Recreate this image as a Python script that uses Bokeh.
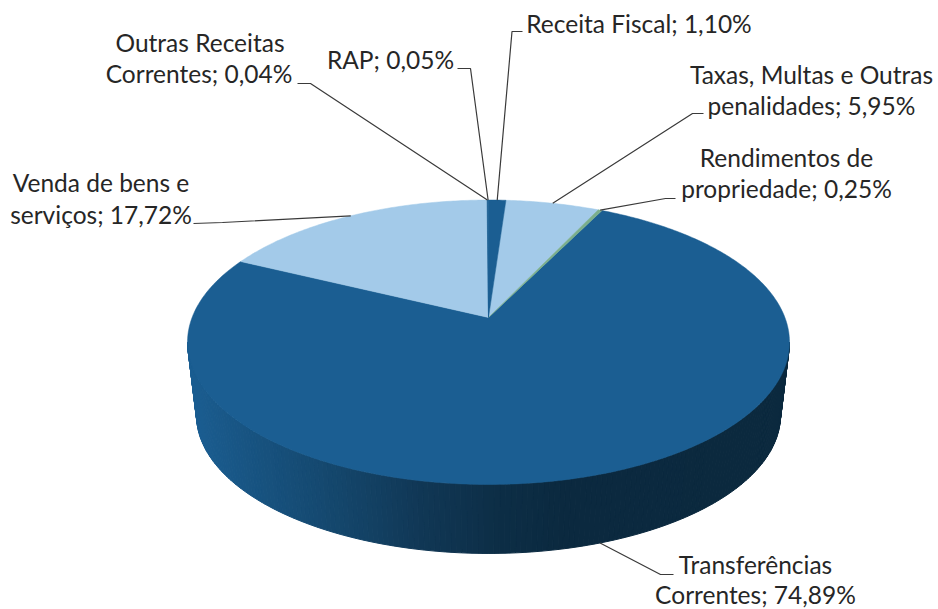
import numpy as np
from bokeh.plotting import figure
from bokeh.models import Range1d
from bokeh.core.properties import value
from bokeh.embed import file_html
from bokeh.resources import INLINE

# ---- data (clockwise from 12 o'clock) ----
categories = ["Receita Fiscal", "Taxas, Multas e Outras penalidades", "Rendimentos de propriedade",
              "Transferências Correntes", "Venda de bens e serviços", "Outras Receitas Correntes", "RAP"]
shares = [1.10, 5.95, 0.25, 74.89, 17.72, 0.04, 0.05]
colors = ["#1B5E92", "#A3CAE9", "#7BAE8C", "#1B5E92", "#A3CAE9", "#1B5E92", "#1B5E92"]

label_lines = [
    ["Receita Fiscal; 1,10%"],
    ["Taxas, Multas e Outras", "penalidades; 5,95%"],
    ["Rendimentos de", "propriedade; 0,25%"],
    ["Transferências", "Correntes; 74,89%"],
    ["Venda de bens e", "serviços; 17,72%"],
    ["Outras Receitas", "Correntes; 0,04%"],
    ["RAP; 0,05%"],
]
# label line centres (x) and vertical centres (y) in page pixels
label_x = [[638.5], [811, 811], [786, 786], [755, 755], [100.5, 100.5], [199.5, 198.5], [390]]
label_y = [[23], [74, 105], [157, 188], [564, 594], [182, 214], [42, 73], [59]]
# leader: elbow, then end at the label
elbows = [(511.5, 31), (692, 113), (665, 198), (660, 574), (222, 222), (310, 83), (470, 68)]
ends = [(522, 31), (703, 113), (675, 198), (673, 574), (193, 223), (297, 83), (457, 68)]

# ---- projection of the tilted disc ----
CX, CY, H, R, K = 488.0, 317.0, 137.9, 296.4, 0.174
ELL_CY, ELL_RY = 342.0, 142.0
BASE_CY, BASE_SX, BASE_SY = 415.0, 0.97, 138.0 / 142.0


def top(theta):
    s = 1.0 / (1.0 + K * np.cos(theta))
    return CX + R * np.sin(theta) * s, CY - H * np.cos(theta) * s


def base(theta):
    x, y = top(theta)
    return CX + (x - CX) * BASE_SX, BASE_CY + (y - ELL_CY) * BASE_SY


W, HT = 938, 609
p = figure(width=W, height=HT, x_range=Range1d(0, W), y_range=Range1d(HT, 0),
           output_backend="svg", toolbar_location=None, min_border=0,
           x_axis_location=None, y_axis_location=None, outline_line_color=None,
           background_fill_color="white", border_fill_color="white")
p.grid.visible = False

# side wall: thin strips shaded by horizontal position
grad_x = [190, 250, 330, 420, 500, 560, 800]
grad_r = [27, 24, 21, 17, 13, 11, 11]
grad_g = [94, 84, 72, 56, 46, 42, 41]
grad_b = [146, 130, 110, 86, 70, 64, 62]
t0 = np.arccos(-K)
ths = np.linspace(t0, 2 * np.pi - t0, 181)
xs_side, ys_side, col_side = [], [], []
for a, b in zip(ths[:-1], ths[1:]):
    ax, ay = top(a); bx, by = top(b)
    cx, cy = base(b); dx, dy = base(a)
    xs_side.append([ax, bx, cx, dx])
    ys_side.append([ay, by, cy, dy])
    m = (ax + bx + cx + dx) / 4
    col_side.append("#%02x%02x%02x" % (int(np.interp(m, grad_x, grad_r)),
                                       int(np.interp(m, grad_x, grad_g)),
                                       int(np.interp(m, grad_x, grad_b))))
p.patches(xs_side, ys_side, fill_color=col_side, line_color=col_side, line_width=1)

# top surface: one wedge per share, narrowest slices painted last so they stay visible
cum = np.concatenate([[0], np.cumsum(shares)]) / sum(shares) * 2 * np.pi
wedges = []
for a, b, c in zip(cum[:-1], cum[1:], colors):
    t = np.linspace(a, b, max(3, int((b - a) * 90)))
    x, y = top(t)
    wedges.append((b - a, [CX] + list(x), [CY] + list(y), c))
wedges.sort(key=lambda w: -w[0])
p.patches([w[1] for w in wedges], [w[2] for w in wedges],
          fill_color=[w[3] for w in wedges], line_color=[w[3] for w in wedges], line_width=0.5)

# leaders, anchored at each slice's mid angle
lx, ly = [], []
for i, (a, b) in enumerate(zip(cum[:-1], cum[1:])):
    m = (a + b) / 2
    ax, ay = base(m) if np.cos(m) < -0.5 else top(m)
    lx.append([ax, elbows[i][0], ends[i][0]])
    ly.append([ay, elbows[i][1], ends[i][1]])
p.multi_line(lx, ly, line_color="#3a3a3a", line_width=1.2)

# labels
tx, ty, tt = [], [], []
for i, lines in enumerate(label_lines):
    for j, s in enumerate(lines):
        tx.append(label_x[i][j]); ty.append(label_y[i][j]); tt.append(s)
p.text(tx, ty, text=tt, text_align="center", text_baseline="middle",
       text_font=value("Lato"), text_font_size=value("24.5px"), text_color="#262626")

open("out.html", "w").write(file_html(p, INLINE))
